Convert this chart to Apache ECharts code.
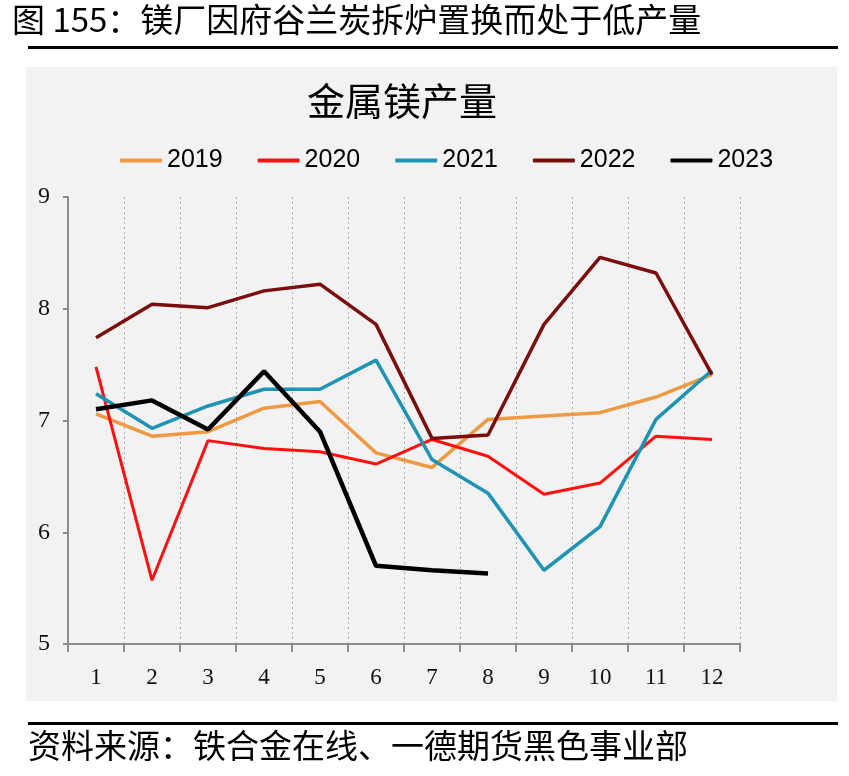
<!DOCTYPE html>
<html>
<head>
<meta charset="utf-8">
<script src="https://cdn.jsdelivr.net/npm/echarts@6/dist/echarts.min.js"></script>
<style>
html,body{margin:0;padding:0;background:#fff;}
#main{width:849px;height:776px;}
</style>
</head>
<body>
<div id="main"></div>
<script>
const months = ['1','2','3','4','5','6','7','8','9','10','11','12'];
const yTicks = [5, 6, 7, 8, 9];
const s2019 = [7.06, 6.86, 6.90, 7.11, 7.17, 6.71, 6.58, 7.01, 7.04, 7.07, 7.21, 7.41];
const s2020 = [7.48, 5.57, 6.82, 6.75, 6.72, 6.61, 6.83, 6.68, 6.34, 6.44, 6.86, 6.83];
const s2021 = [7.24, 6.93, 7.13, 7.28, 7.28, 7.54, 6.65, 6.35, 5.66, 6.05, 7.01, 7.45];
const s2022 = [7.74, 8.04, 8.01, 8.16, 8.22, 7.86, 6.84, 6.87, 7.86, 8.46, 8.32, 7.41];
const s2023 = [7.10, 7.18, 6.92, 7.44, 6.90, 5.70, 5.66, 5.63];
const seriesNames = ['2019', '2020', '2021', '2022', '2023'];
const seriesData = [s2019, s2020, s2021, s2022, s2023];
const colors = ['#EE9A45', '#FF1010', '#1E93B4', '#7A0E0E', '#000000'];
const widths = [3.5, 3, 3.5, 3.5, 4.5];

const chart = echarts.init(document.getElementById('main'));
const cjk = '"Noto Sans CJK SC", sans-serif';
chart.setOption({
  animation: false,
  backgroundColor: '#ffffff',
  graphic: [
    { type: 'rect', z: -10, shape: { x: 26, y: 67, width: 811, height: 634 }, style: { fill: '#F2F2F2' } },
    { type: 'text', x: 12, y: 3, style: { text: '图 155：镁厂因府谷兰炭拆炉置换而处于低产量', font: '33px ' + cjk, fill: '#000' } },
    { type: 'rect', shape: { x: 28, y: 46, width: 810, height: 3 }, style: { fill: '#000' } },
    { type: 'rect', shape: { x: 28, y: 722, width: 810, height: 3 }, style: { fill: '#000' } },
    { type: 'text', x: 28, y: 729, style: { text: '资料来源：铁合金在线、一德期货黑色事业部', font: '33px ' + cjk, fill: '#000' } },
    { type: 'text', x: 402, y: 82, style: { text: '金属镁产量', font: '38px ' + cjk, fill: '#000', align: 'center' } }
  ],
  legend: {
    data: seriesNames,
    left: 115,
    top: 143,
    icon: 'roundRect',
    itemWidth: 42,
    itemHeight: 4,
    itemGap: 35,
    itemTextGap: 3,
    textStyle: { fontFamily: '"Liberation Sans", sans-serif', fontSize: 25, color: '#000' }
  },
  grid: { left: 68, right: 109, top: 197, bottom: 132, containLabel: false },
  xAxis: {
    type: 'category',
    data: months,
    boundaryGap: true,
    axisLine: { lineStyle: { color: '#8c8c8c', width: 2 } },
    axisTick: { show: true, length: 8, interval: 0, lineStyle: { color: '#8c8c8c', width: 2 } },
    axisLabel: { interval: 0, margin: 22, fontFamily: '"Liberation Serif", serif', fontSize: 23, color: '#111' },
    splitLine: { show: true, interval: 0, lineStyle: { color: '#ababab', type: [2, 3], width: 1 } }
  },
  yAxis: {
    type: 'value',
    min: 5,
    max: 9,
    interval: 1,
    axisLine: { show: true, lineStyle: { color: '#8c8c8c', width: 2 } },
    axisTick: { show: true, length: 5, lineStyle: { color: '#8c8c8c', width: 2 } },
    axisLabel: { margin: 18, fontFamily: '"Liberation Serif", serif', fontSize: 24, color: '#111',
      formatter: v => yTicks.includes(v) ? String(v) : '' },
    splitLine: { show: false }
  },
  series: seriesNames.map((n, i) => ({
    name: n,
    type: 'line',
    data: seriesData[i],
    symbol: 'none',
    smooth: false,
    color: colors[i],
    lineStyle: { color: colors[i], width: widths[i] },
    z: i === 4 ? 10 : 2 + i
  }))
});
</script>
</body>
</html>
